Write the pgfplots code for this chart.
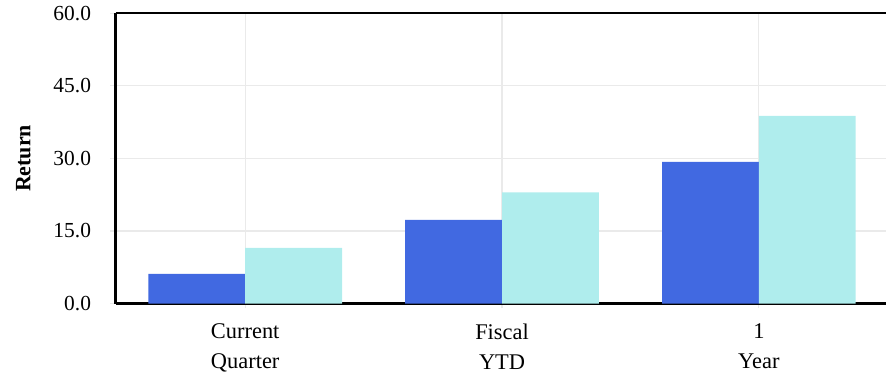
\documentclass[border=0pt]{standalone}
\usepackage{pgfplots}
\pgfplotsset{compat=1.18}
\usepackage{fontspec}
\setmainfont{Liberation Serif}
\definecolor{barblue}{RGB}{65,105,225}
\definecolor{barlight}{RGB}{175,237,237}
\definecolor{gridc}{RGB}{234,234,234}
\pgfplotsset{layers/mylayers/.define layer set={axis background,axis grid,axis ticks,pre main,main,axis lines,axis tick labels,axis descriptions,axis foreground}{}}
\begin{document}
\begin{tikzpicture}
\begin{axis}[
  name=ax,
  set layers=mylayers,
  scale only axis,
  width=770.5bp, height=290.2bp,
  xmin=-0.505, xmax=2.495,
  ymin=0, ymax=60,
  ytick={0,15,30,45,60},
  xtick={0,1,2},
  xticklabels={{Current\\Quarter},{Fiscal\\YTD},{1\\Year}},
  xticklabel style={align=center, font=\fontsize{22.5}{30}\selectfont, yshift=-12bp},
  yticklabel style={font=\fontsize{21.5}{22}\selectfont, xshift=-16bp},
  /pgf/number format/assume math mode=true,
  yticklabel={\pgfmathprintnumber[fixed,fixed zerofill,precision=1]{\tick}},
  ylabel={\textbf{Return}},
  ylabel style={font=\fontsize{22}{22}\selectfont, yshift=16bp},
  grid=major,
  major grid style={color=gridc, line width=1.2bp},
  major tick length=5bp,
  tick align=outside,
  tick style={color=gridc, line width=1.2bp},
  axis x line*=bottom,
  axis y line*=left,
  axis line style={line width=2bp, black, -},
  ybar=0pt,
  bar width=0.377,
  clip=false,
]
\addplot[fill=barblue, draw=none] coordinates {(0,6.1) (1,17.3) (2,29.3)};
\addplot[fill=barlight, draw=none] coordinates {(0,11.5) (1,23.0) (2,38.8)};
\end{axis}
\draw[line width=2bp, black] (ax.north west) -- (ax.north east);
\pgfresetboundingbox
\path ([shift={(-115.5bp,-77.5bp)}]ax.south west) rectangle ([shift={(0bp,13.3bp)}]ax.north east);
\end{tikzpicture}
\end{document}
